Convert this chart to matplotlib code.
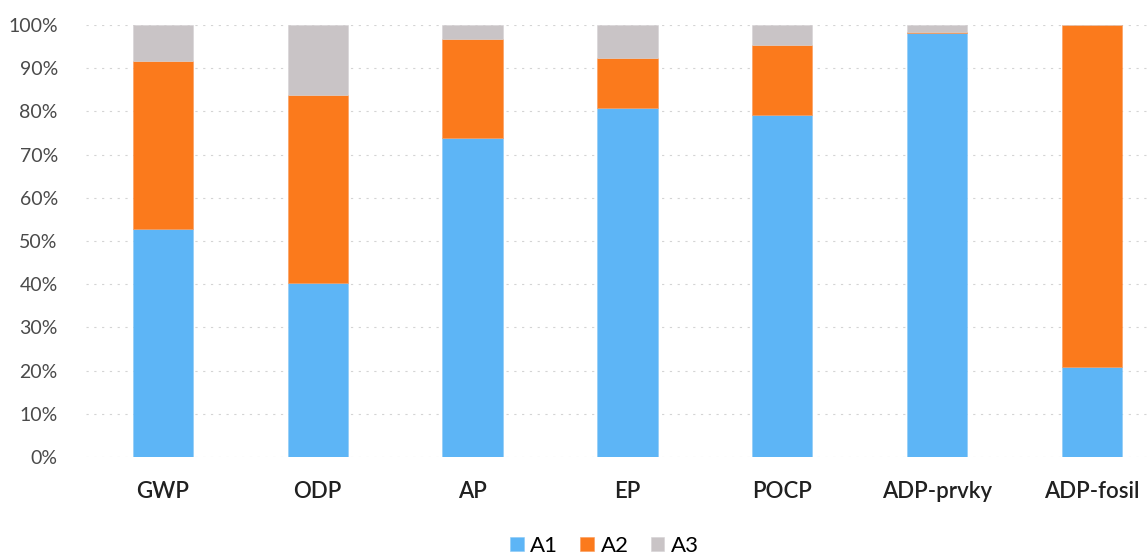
import matplotlib.pyplot as plt
import numpy as np

plt.rcParams['font.family'] = ['Lato', 'DejaVu Sans']

# podíly jednotlivých fází (%)
kategorie = ['GWP', 'ODP', 'AP', 'EP', 'POCP', 'ADP-prvky', 'ADP-fosil']
a1 = [52.8, 40.2, 73.8, 80.9, 79.2, 98.2, 20.8]
a2 = [38.9, 43.6, 22.9, 11.5, 16.2, 0.2, 79.1]
a3 = [8.3, 16.2, 3.3, 7.6, 4.6, 1.6, 0.1]

fig = plt.figure(figsize=(11.47, 5.6), dpi=100)
ax = fig.add_axes([0.0746, 0.1839, 0.9447, 0.7714])

x = np.arange(len(kategorie))
w = 0.39
b1 = np.array(a1)
b2 = b1 + np.array(a2)
ax.bar(x, a1, width=w, color='#5DB5F6', label='A1', edgecolor='#8ccaf5', linewidth=0.4, zorder=3)
ax.bar(x, a2, width=w, bottom=b1, color='#FB7A1C', label='A2', edgecolor='#fb9a5a', linewidth=0.4, zorder=3)
ax.bar(x, a3, width=w, bottom=b2, color='#C9C4C6', label='A3', edgecolor='#d6d2d4', linewidth=0.4, zorder=3)

ax.set_xlim(-0.5, len(kategorie) - 0.5)
ax.set_ylim(0, 100)
ax.set_yticks(range(0, 101, 10))
ax.set_yticklabels([f'{v}%' for v in range(0, 101, 10)])
ax.set_xticks(x)
ax.set_xticklabels(kategorie, fontweight='semibold')
ax.tick_params(axis='y', length=0, pad=20, labelsize=14, labelcolor='#4a4a4a')
ax.tick_params(axis='x', length=0, pad=17, labelsize=16, labelcolor='#202020')
ax.grid(axis='y', linestyle=(0, (2, 5)), color='#d4d4d4', linewidth=0.8, zorder=0)
for s in ax.spines.values():
    s.set_visible(False)

fig.legend(loc='center', bbox_to_anchor=(0.527, 0.025), ncol=3, frameon=False,
           fontsize=16, handlelength=0.6, handleheight=0.6, handletextpad=0.3,
           columnspacing=1.0)

fig.savefig('out.png', dpi=100)
